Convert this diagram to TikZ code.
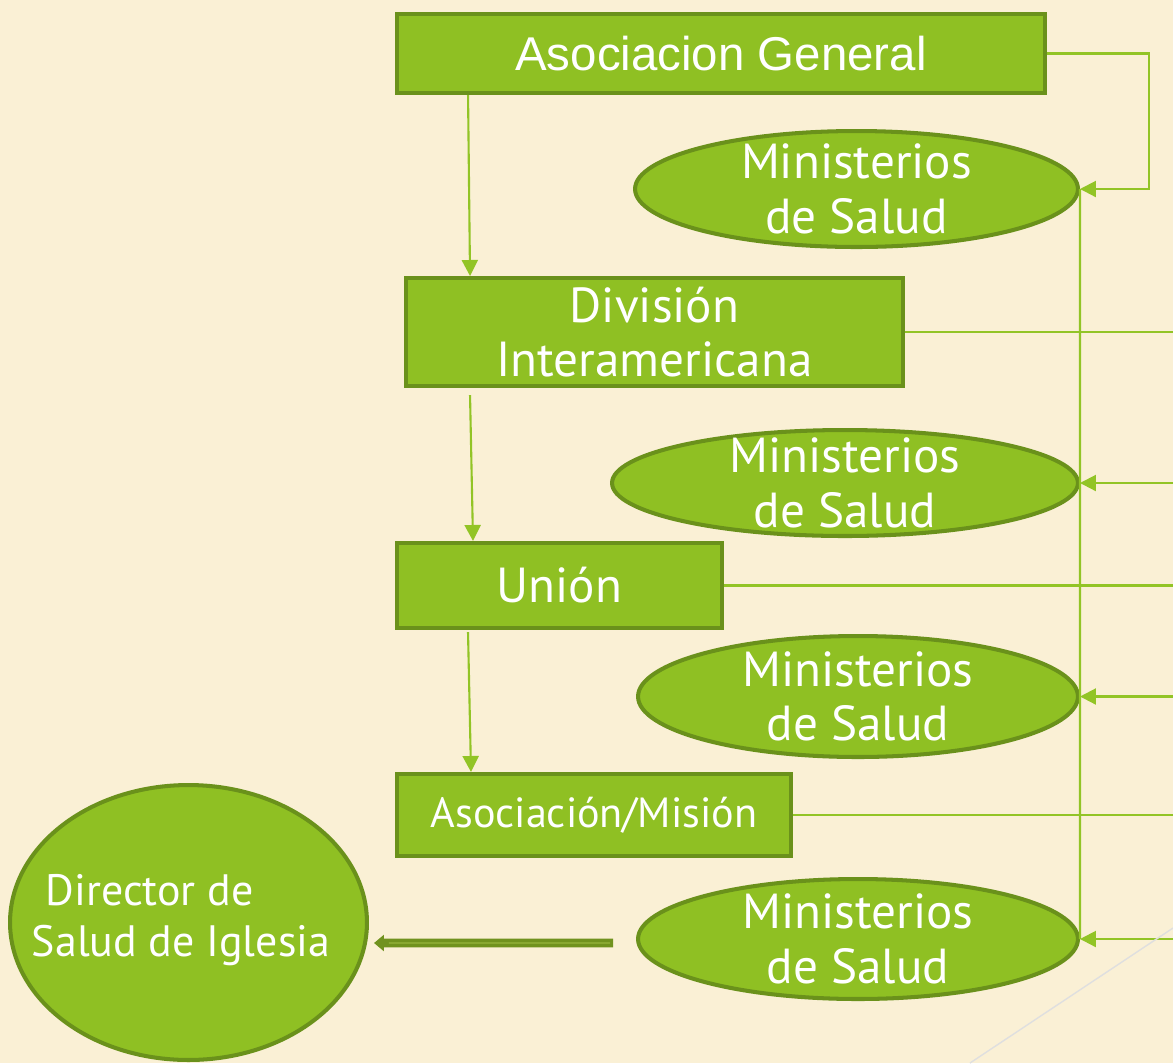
\documentclass[tikz,border=0pt]{standalone}
\usepackage{fontspec}
\setmainfont{PT Sans}
\newfontfamily\arialfont{Liberation Sans}
\usepackage{tikz}
\usetikzlibrary{shapes.geometric,arrows.meta,calc}

\definecolor{paper}{RGB}{250,240,213}
\definecolor{leaf}{RGB}{143,192,35}
\definecolor{leafdark}{RGB}{106,145,27}
\definecolor{wire}{RGB}{146,196,38}
\definecolor{olivearrow}{RGB}{112,146,30}
\definecolor{olivein}{RGB}{150,180,60}

\tikzset{
  box/.style={draw=leafdark, fill=leaf, line width=2.3pt, text=white, inner sep=0pt},
  oval/.style={ellipse, draw=leafdark, fill=leaf, line width=2.3pt, inner sep=0pt},
  ovaltext/.style={text=white, align=center, font=\fontsize{28}{31}\selectfont},
  link/.style={draw=wire, line width=1.2pt},
  tip/.style={-{Triangle[length=0.32cm,width=0.32cm]}}
}

\begin{document}
\begin{tikzpicture}[x=0.02cm, y=-0.02cm]
            \fill[paper] (0,0) rectangle (1173,1063);
            \useasboundingbox (0,0) rectangle (1173,1063);
            \coordinate (edge) at (1173,0);

            % boxes on the left
            \node[box, minimum width=12.96cm, minimum height=1.58cm, font=\arialfont\fontsize{27}{32}\selectfont] (ag) at (721,53.5) {Asociacion General};
            \node[box, minimum width=9.94cm, minimum height=2.16cm, align=center, font=\fontsize{28}{31}\selectfont] (div) at (654.5,332) {División\\Interamericana};
            \node[box, minimum width=6.5cm, minimum height=1.7cm, font=\fontsize{28}{31}\selectfont] (union) at (559.5,585.5) {Unión};
            \node[box, minimum width=7.88cm, minimum height=1.64cm, font=\fontsize{24}{28}\selectfont] (asoc) at (594,815) {Asociación/Misión};

            % ellipses
            \node[oval, minimum width=8.86cm, minimum height=2.32cm] (e1) at (856.5,189) {};
            \node[ovaltext] (t1) at (e1) {Ministerios\\de Salud};
            \node[oval, minimum width=9.32cm, minimum height=2.12cm] (e2) at (845,483) {};
            \node[ovaltext] (t2) at (e2) {Ministerios\\de Salud};
            \node[oval, minimum width=8.8cm, minimum height=2.42cm] (e3) at (858,696.5) {};
            \node[ovaltext] (t3) at (e3) {Ministerios\\de Salud};
            \node[oval, minimum width=8.8cm, minimum height=2.4cm] (e4) at (858,939) {};
            \node[ovaltext] (t4) at (e4) {Ministerios\\de Salud};

            \node[oval, minimum width=7.14cm, minimum height=5.5cm] (dir) at (188.5,922.5) {};
            \node[text=white, align=left, font=\fontsize{25}{29}\selectfont] (tdir) at (181,920) {\hspace{0.28cm}Director de\\Salud de Iglesia};

            % down the left column
            \draw[link, tip] ($(ag.south west)+(73,0)$) -- ($(div.north west)+(66,0)$);
            \draw[link, tip] ($(div.south west)+(66,7)$) -- ($(union.north west)+(78,0)$);
            \draw[link, tip] ($(union.south west)+(73,2)$) -- ($(asoc.north west)+(76,0)$);

            % right side
            \draw[link, tip] (ag.east) -- ++(102,0) |- (e1.east);
            \draw[link] (e1.east) -- (e4.east);
            \draw[link] (div.east) -- (div.east -| edge);
            \draw[link] (union.east) -- (union.east -| edge);
            \draw[link] (asoc.east) -- (asoc.east -| edge);
            \draw[link, tip] (e2.east -| edge) -- (e2.east);
            \draw[link, tip] (e3.east -| edge) -- (e3.east);
            \draw[link, tip] (e4.east -| edge) -- (e4.east);

            % to the church director
            \draw[draw=olivearrow, line width=5pt, -{Triangle[length=0.2cm,width=0.32cm]}] ($(e4.west)+(-23,4)$) -- ($(dir.east)+(5,20.5)$);
            \draw[draw=olivein, line width=0.8pt] ($(e4.west)+(-26,4)$) -- ($(dir.east)+(20,20.5)$);

            \draw[gray!25, line width=0.8pt] (1173,928) -- (970,1063);
\end{tikzpicture}
\end{document}
